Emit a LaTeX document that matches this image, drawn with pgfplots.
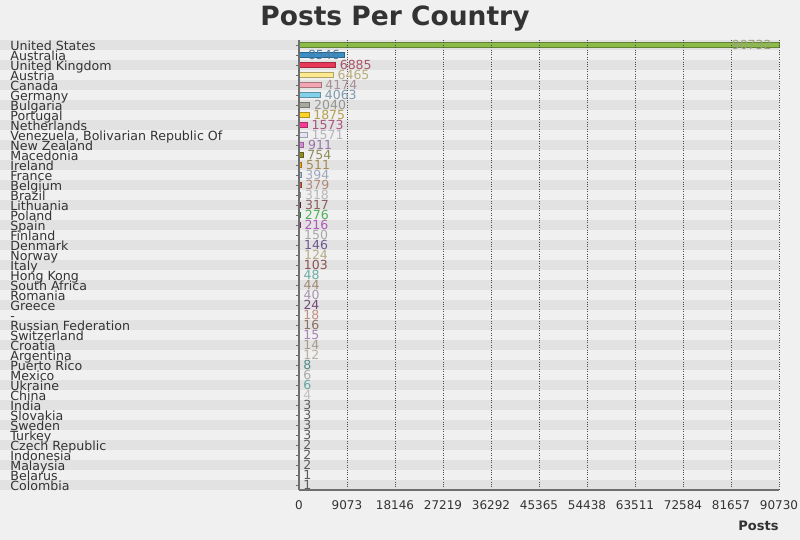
\documentclass[border=0pt]{standalone}
\usepackage{pgfplots}
\pgfplotsset{compat=1.18}
\usepackage{fontspec}
\setmainfont{DejaVu Sans}
\definecolor{bgc}{HTML}{F0F0F0}
\definecolor{stripe}{HTML}{E2E2E2}
\definecolor{txt}{HTML}{333333}
\definecolor{axgray}{HTML}{6E6E6E}
\newcommand{\bc}[3]{\definecolor{b#1}{HTML}{#2}\definecolor{l#1}{HTML}{#3}}
\bc{0}{8CBB4A}{9AA37E}
\bc{1}{3A8FC6}{4A7EA8}
\bc{2}{E8385A}{A8546A}
\bc{3}{FDE98F}{B8AC7C}
\bc{4}{F2A6B4}{A89098}
\bc{5}{82D0EA}{7E9CAC}
\bc{6}{A8A89E}{949490}
\bc{7}{FFD42A}{B4A050}
\bc{8}{F43C96}{A85480}
\bc{9}{E4E4F4}{B4B4BC}
\bc{10}{D888D8}{9874A8}
\bc{11}{8C8C20}{908C5C}
\bc{12}{F0A020}{A88850}
\bc{13}{A8BCE0}{A0A8BC}
\bc{14}{C86040}{B08878}
\bc{15}{C8C8C8}{B8B8B8}
\bc{16}{802838}{8C5C5C}
\bc{17}{28C040}{50B058}
\bc{18}{C028C0}{B058B8}
\bc{19}{B8B8B8}{A8A8A8}
\bc{20}{604890}{6C5890}
\bc{21}{C8C090}{B4AC84}
\bc{22}{903838}{8C5050}
\bc{23}{60B8A8}{6CACA4}
\bc{24}{A88860}{A08870}
\bc{25}{B098C0}{A894B0}
\bc{26}{703878}{744878}
\bc{27}{D09888}{C09080}
\bc{28}{906850}{8C7060}
\bc{29}{B888C8}{A884B8}
\bc{30}{A89880}{A49C8C}
\bc{31}{C0B8A8}{B8B0A4}
\bc{32}{408888}{548888}
\bc{33}{A0A0A0}{A8A8A8}
\bc{34}{50A8A8}{68A4A4}
\bc{35}{C8C8C8}{C0C0C0}
\bc{36}{606060}{5C5C5C}
\bc{37}{606060}{5C5C5C}
\bc{38}{606060}{5C5C5C}
\bc{39}{606060}{5C5C5C}
\bc{40}{606060}{5C5C5C}
\bc{41}{606060}{5C5C5C}
\bc{42}{606060}{5C5C5C}
\bc{43}{606060}{5C5C5C}
\bc{44}{606060}{5C5C5C}
% row, value, extra label style
\newcommand{\cbar}[3]{\addplot[fill=b#1, draw=b#1!70!black, bar shift=0pt,
  every node near coord/.append style={text=l#1, #3}]
  coordinates {(#2,#1)};}
\begin{document}
\begin{tikzpicture}
\useasboundingbox (0,0) rectangle (800pt,540pt);
\fill[bgc] (0,0) rectangle (800pt,540pt);
\foreach \i in {0,2,...,44} {
  \fill[stripe] (0pt,{490pt-10pt*\i}) rectangle (779pt,{500pt-10pt*\i});
}
\node[anchor=base, text=txt, font=\bfseries\fontsize{26.5}{26.5}\selectfont, inner sep=0pt] at (395pt,514pt) {Posts Per Country};
\begin{axis}[
  at={(299pt,50pt)}, anchor=south west,
  scale only axis, width=480pt, height=450pt,
  xbar, bar width=5pt,
  xmin=0, xmax=90732,
  ymin=-0.5, ymax=44.5, y dir=reverse,
  axis lines*=left,
  axis line style={draw=axgray, line width=1.6pt},
  axis on top,
  xmajorgrids,
  major grid style={draw=black!70, dash pattern=on 0.8pt off 1.6pt, line width=0.8pt},
  scaled x ticks=false,
  xtick={0,9073,18146,27219,36292,45365,54438,63511,72584,81657,90730},
  xticklabels={0,9073,18146,27219,36292,45365,54438,63511,72584,81657,90730},
  xtick style={draw=none},
  ytick={0,...,44},
  ytick style={draw=axgray, line width=0.8pt},
  tick align=outside, major tick length=3pt,
  yticklabels={United States,Australia,United Kingdom,Austria,Canada,Germany,Bulgaria,Portugal,Netherlands,{Venezuela, Bolivarian Republic Of},New Zealand,Macedonia,Ireland,France,Belgium,Brazil,Lithuania,Poland,Spain,Finland,Denmark,Norway,Italy,Hong Kong,South Africa,Romania,Greece,-,Russian Federation,Switzerland,Croatia,Argentina,Puerto Rico,Mexico,Ukraine,China,India,Slovakia,Sweden,Turkey,Czech Republic,Indonesia,Malaysia,Belarus,Colombia},
  yticklabel style={anchor=base west, inner sep=0pt, xshift=-286pt, yshift=-5.2pt, text=txt, font=\fontsize{12.6}{12.6}\selectfont},
  xticklabel style={anchor=base, inner sep=0pt, yshift=-16pt, text=txt, font=\fontsize{12}{12}\selectfont},
  xlabel={Posts},
  x label style={at={(axis description cs:1,0)}, anchor=base east, inner sep=0pt, yshift=-40pt, text=txt, font=\bfseries\fontsize{13}{13}\selectfont},
  point meta=x,
  nodes near coords={\pgfmathprintnumber[fixed,precision=0,1000 sep={}]{\pgfplotspointmeta}},
  nodes near coords style={font=\fontsize{12.5}{12.5}\selectfont, inner sep=0pt, anchor=base west, xshift=4pt, yshift=-4.8pt},
  /pgf/number format/assume math mode=true,
  clip=false,
  line width=0.8pt,
]
\cbar{0}{90732}{anchor=base east, xshift=-11pt}
\cbar{1}{8546}{anchor=base east, xshift=-8pt}
\cbar{2}{6885}{}
\cbar{3}{6465}{}
\cbar{4}{4174}{}
\cbar{5}{4063}{}
\cbar{6}{2040}{}
\cbar{7}{1875}{}
\cbar{8}{1573}{}
\cbar{9}{1571}{}
\cbar{10}{911}{}
\cbar{11}{754}{}
\cbar{12}{511}{}
\cbar{13}{394}{}
\cbar{14}{379}{}
\cbar{15}{318}{}
\cbar{16}{317}{}
\cbar{17}{276}{}
\cbar{18}{216}{}
\cbar{19}{150}{}
\cbar{20}{146}{}
\cbar{21}{124}{}
\cbar{22}{103}{}
\cbar{23}{48}{}
\cbar{24}{44}{}
\cbar{25}{40}{}
\cbar{26}{24}{}
\cbar{27}{18}{}
\cbar{28}{16}{}
\cbar{29}{15}{}
\cbar{30}{14}{}
\cbar{31}{12}{}
\cbar{32}{8}{}
\cbar{33}{6}{}
\cbar{34}{6}{}
\cbar{35}{4}{}
\cbar{36}{3}{}
\cbar{37}{3}{}
\cbar{38}{3}{}
\cbar{39}{3}{}
\cbar{40}{2}{}
\cbar{41}{2}{}
\cbar{42}{2}{}
\cbar{43}{1}{}
\cbar{44}{1}{}
\end{axis}
\end{tikzpicture}
\end{document}
